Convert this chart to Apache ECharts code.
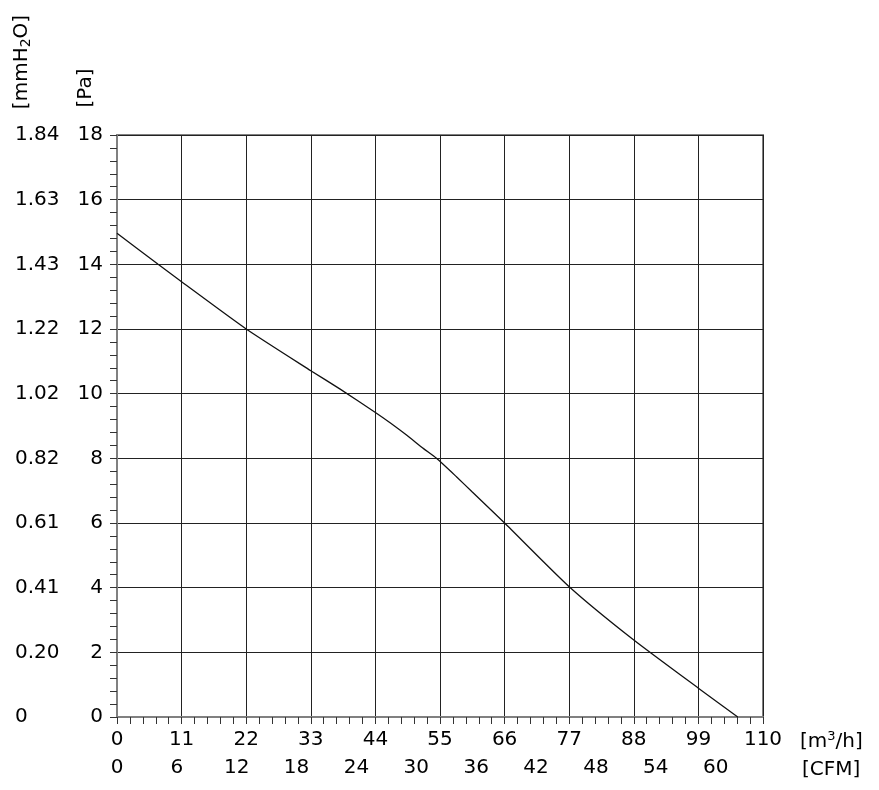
<!DOCTYPE html>
<html>
<head>
<meta charset="utf-8">
<style>html,body{margin:0;padding:0;background:#fff;}#chart{width:879px;height:790px;}</style>
<script src="https://cdn.jsdelivr.net/npm/echarts@6/dist/echarts.min.js"></script>
</head>
<body>
<div id="chart"></div>
<script>
// Airflow (m3/h) and static pressure (Pa)
const flow = [0, 7, 11, 22, 33, 38, 44, 46.5, 49.3, 52.2, 54.4, 57.8, 60.5, 66, 77, 88, 99, 105.7];
const pressure = [14.96, 14.0, 13.46, 12.0, 10.71, 10.14, 9.42, 9.10, 8.72, 8.30, 8.0, 7.43, 6.96, 6.0, 4.03, 2.38, 0.89, 0];
// Secondary tick labels
const mmH2OLabels = ['0', '0.20', '0.41', '0.61', '0.82', '1.02', '1.22', '1.43', '1.63', '1.84'];
const CFM_PER_M3H = 0.5886;
const X_MAX = 110, X_STEP = 11, Y_MAX = 18, Y_STEP = 2, CFM_STEP = 6;

const font = 'DejaVu Sans, Verdana, sans-serif';
const chart = echarts.init(document.getElementById('chart'));
const lineCol = '#222';
chart.setOption({
  animation: false,
  grid: { left: 117, top: 135, right: 116, bottom: 73, show: true, borderColor: '#808080', borderWidth: 2, backgroundColor: 'transparent' },
  xAxis: [{
    type: 'value', min: 0, max: X_MAX, interval: X_STEP, position: 'bottom',
    axisLine: { show: true, onZero: false, lineStyle: { color: '#808080', width: 2 } },
    axisTick: { show: true, inside: false, length: 7, lineStyle: { color: '#333' } },
    minorTick: { show: true, splitNumber: 5, length: 7, lineStyle: { color: '#333' } },
    splitLine: { show: true, lineStyle: { color: lineCol, width: 1 } },
    axisLabel: { margin: 13, fontFamily: font, fontSize: 20, color: '#000' }
  }, {
    type: 'value', min: 0, max: X_MAX * CFM_PER_M3H, interval: CFM_STEP, position: 'bottom', offset: 28,
    axisLine: { show: false }, axisTick: { show: false }, splitLine: { show: false },
    axisLabel: { margin: 13, fontFamily: font, fontSize: 20, color: '#000', showMaxLabel: false }
  }],
  yAxis: [{
    type: 'value', min: 0, max: Y_MAX, interval: Y_STEP, position: 'left',
    axisLine: { show: true, onZero: false, lineStyle: { color: '#808080', width: 2 } },
    axisTick: { show: true, inside: false, length: 7, lineStyle: { color: '#333' } },
    minorTick: { show: true, splitNumber: 5, length: 7, lineStyle: { color: '#333' } },
    splitLine: { show: true, lineStyle: { color: lineCol, width: 1 } },
    axisLabel: { margin: 14, fontFamily: font, fontSize: 20, color: '#000', padding: [6, 0, 0, 0] }
  }, {
    type: 'value', min: 0, max: Y_MAX, interval: Y_STEP, position: 'left', offset: 90,
    axisLine: { show: false }, axisTick: { show: false }, splitLine: { show: false },
    axisLabel: { margin: 12, align: 'left', fontFamily: font, fontSize: 20, color: '#000', padding: [6, 0, 0, 0],
      formatter: v => mmH2OLabels[Math.round(v / Y_STEP)] }
  }],
  series: [{
    type: 'line', xAxisIndex: 0, yAxisIndex: 0,
    data: flow.map((f, i) => [f, pressure[i]]),
    smooth: 0.2, showSymbol: false, lineStyle: { color: '#111', width: 1.3 }
  }],
  graphic: [
    { type: 'text', x: 22, y: 62, rotation: Math.PI / 2,
      style: { text: '[mmH{sub|2}O]', fontFamily: font, fontSize: 20, fill: '#000', align: 'center', verticalAlign: 'middle',
        rich: { sub: { fontFamily: font, fontSize: 14, verticalAlign: 'bottom', padding: [8, 0, 0, 0] } } } },
    { type: 'text', x: 86, y: 88, rotation: Math.PI / 2,
      style: { text: '[Pa]', fontFamily: font, fontSize: 20, fill: '#000', align: 'center', verticalAlign: 'middle' } },
    { type: 'text', x: 800, y: 742,
      style: { text: '[m{sup|3}/h]', fontFamily: font, fontSize: 20, fill: '#000', align: 'left', verticalAlign: 'middle',
        rich: { sup: { fontFamily: font, fontSize: 13, verticalAlign: 'top', padding: [0, 0, 10, 0] } } } },
    { type: 'text', x: 802, y: 770,
      style: { text: '[CFM]', fontFamily: font, fontSize: 20, fill: '#000', align: 'left', verticalAlign: 'middle' } }
  ]
});
</script>
</body>
</html>
